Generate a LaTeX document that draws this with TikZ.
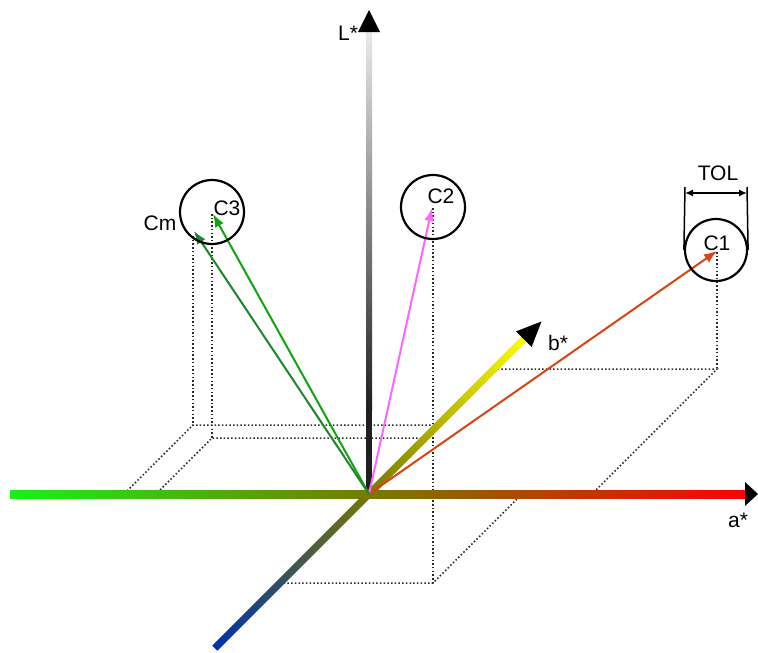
\documentclass[tikz,border=0pt]{standalone}
\usepackage{fontspec}
\setmainfont{Liberation Sans}
\usetikzlibrary{arrows.meta}
\definecolor{agreen}{RGB}{25,240,25}
\definecolor{aolive}{RGB}{120,120,0}
\definecolor{ared}{RGB}{255,0,0}
\definecolor{bblue}{RGB}{0,50,170}
\definecolor{byellow}{RGB}{255,255,0}
\definecolor{vred}{RGB}{217,68,18}
\definecolor{vmag}{RGB}{255,102,255}
\definecolor{vgreenA}{RGB}{16,165,16}
\definecolor{vgreenB}{RGB}{30,135,45}
\definecolor{dotgray}{RGB}{40,40,40}
\begin{document}
\begin{tikzpicture}[x=1pt,y=-1pt,
  proj/.style={draw=dotgray,line width=1.5pt,dash pattern=on 1.5pt off 2.2pt},
  vec/.style={line width=2pt,-{Latex[length=13pt,width=10pt]}},
  ring/.style={draw=black,line width=2.2pt},
  lbl/.style={font=\fontsize{21}{24}\selectfont,inner sep=0pt},
  head/.style={fill=black,draw=none}]
\useasboundingbox (0,0) rectangle (758,653);
\fill[white] (0,0) rectangle (758,653);

% key points
\coordinate (O) at (369,494);
\coordinate (P1) at (717,251);
\coordinate (P2) at (432,208);
\coordinate (P3) at (213,214);
\coordinate (Pm) at (194,231);

% projection points
\coordinate (q1) at (717,369);
\coordinate (q1a) at (592,494);
\coordinate (q1b) at (494,369);
\coordinate (q2) at (433,583);
\coordinate (q2a) at (522,494);
\coordinate (q2b) at (280,583);
\coordinate (q3) at (212,438);
\coordinate (q3a) at (156,494);
\coordinate (q3b) at (425,438);
\coordinate (qm) at (193,425);
\coordinate (qma) at (124,494);
\coordinate (qmb) at (438,425);

% dotted projection boxes
\draw[proj] (717,252) -- (q1);
\draw[proj] (q1b) -- (q1) -- (q1a);
\draw[proj] (433,208) -- (q2);
\draw[proj] (q2b) -- (q2) -- (q2a);
\draw[proj] (212,214) -- (q3);
\draw[proj] (q3b) -- (q3) -- (q3a);
\draw[proj] (193,236) -- (qm);
\draw[proj] (qmb) -- (qm) -- (qma);

% L* axis
\shade[top color=white!92!black,bottom color=black!88] (366,30) rectangle (372,410);
\fill[black!88] (366,409) rectangle (372,494);
\fill[head] (369,10) -- (380,32) -- (358,32) -- cycle;

% b* axis
\begin{scope}[transform canvas={shift={(O)},rotate=45}]
  \shade[left color=bblue,right color=byellow,middle color=aolive] (-218,-3.6) rectangle (222,3.6);
  \fill[head] (244,0) -- (219,-11) -- (219,11) -- cycle;
\end{scope}

% a* axis
\shade[left color=agreen,right color=ared,middle color=aolive] (10,490) rectangle (746,498);
\fill[head] (758,494) -- (745,482) -- (745,506) -- cycle;

% vectors
\draw[vec,vred] (O) -- (P1);
\draw[vec,vmag] (O) -- (P2);
\draw[vec,vgreenA] (O) -- (P3);
\draw[vec,vgreenB] (O) -- (Pm);

% tolerance circles
\node[ring,circle,minimum size=64pt,inner sep=0pt] (c3) at (212,212) {};
\node[ring,circle,minimum size=64pt,inner sep=0pt] (c2) at (433,207) {};
\node[ring,circle,minimum size=62pt,inner sep=0pt] (c1) at (716,250) {};

% TOL dimension
\coordinate (t1) at (685,187);
\coordinate (t2) at (747,187);
\draw[line width=1.5pt] (t1) -- (c1.west);
\draw[line width=1.5pt] (t2) -- (c1.east);
\draw[line width=1.5pt,{Latex[length=8pt,width=7pt]}-{Latex[length=8pt,width=7pt]}] (685,193) -- (747,193);

% labels
\node[lbl] (lL) at (348,33) {L*};
\node[lbl] (lb) at (558,343) {b*};
\node[lbl] (la) at (738,520) {a*};
\node[lbl] (lT) at (718,173) {TOL};
\node[lbl] (l1) at (717,243) {C1};
\node[lbl] (l2) at (441,196) {C2};
\node[lbl] (l3) at (227,208) {C3};
\node[lbl] (lm) at (160,223) {Cm};
\end{tikzpicture}
\end{document}
